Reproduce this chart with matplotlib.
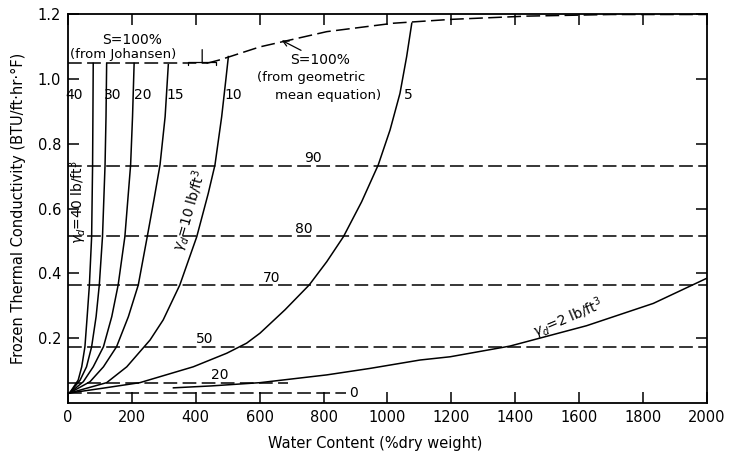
import numpy as np
import matplotlib.pyplot as plt

# frozen conductivity vs water content for each dry density (lb/ft3)
w40 = [5, 32, 43, 53, 60, 67, 74, 77, 78, 79]
k40 = [0.03, 0.07, 0.111, 0.173, 0.266, 0.364, 0.513, 0.735, 0.884, 1.049]
w30 = [5, 38, 58, 74, 88, 98, 108, 116, 119, 121]
k30 = [0.03, 0.07, 0.111, 0.173, 0.266, 0.364, 0.513, 0.735, 0.884, 1.049]
w20 = [5, 48, 79, 111, 137, 157, 178, 196, 202, 207]
k20 = [0.03, 0.065, 0.111, 0.173, 0.266, 0.364, 0.513, 0.735, 0.884, 1.049]
w15 = [5, 69, 111, 152, 189, 220, 248, 269, 288, 304, 314]
k15 = [0.03, 0.065, 0.111, 0.173, 0.266, 0.364, 0.513, 0.627, 0.735, 0.884, 1.045]
w10 = [5, 121, 184, 257, 298, 350, 403, 439, 460, 481, 494, 502]
k10 = [0.03, 0.062, 0.111, 0.194, 0.256, 0.364, 0.513, 0.647, 0.735, 0.884, 0.998, 1.07]
w5 = [5, 110, 225, 392, 497, 559, 601, 679, 755, 810, 862, 919, 971, 1008, 1039, 1060, 1076]
k5 = [0.03, 0.045, 0.062, 0.111, 0.153, 0.184, 0.215, 0.287, 0.364, 0.436, 0.513,
      0.621, 0.735, 0.843, 0.956, 1.07, 1.173]
w2 = [330, 450, 601, 810, 945, 1102, 1196, 1383, 1623, 1832, 2000]
k2 = [0.046, 0.052, 0.062, 0.086, 0.106, 0.132, 0.142, 0.175, 0.238, 0.307, 0.385]

# S = 100% limits
johansen_w = [0, 434]
johansen_k = [1.049, 1.049]
geomean_w = [434, 476, 601, 810, 1018, 1200, 1437, 1700, 2000]
geomean_k = [1.049, 1.06, 1.10, 1.147, 1.173, 1.185, 1.195, 1.2, 1.2]

# constant degree-of-saturation lines (%)
sat_levels = ["90", "80", "70", "50", "20", "0"]
sat_k = [0.733, 0.515, 0.364, 0.171, 0.06, 0.029]
sat_end = [2000, 2000, 2000, 2000, 690, 870]
sat_lab_w = [768, 737, 637, 429, 476, 893]
sat_lab_k = [0.757, 0.536, 0.386, 0.197, 0.087, 0.029]

# density labels at top of curves
dens_labels = ["40", "30", "20", "15", "10", "5"]
dens_lab_w = [20, 141, 235, 335, 516, 1064]
dens_lab_k = [0.951] * 6

fig = plt.figure(figsize=(7.39, 4.53), dpi=100)
ax = fig.add_axes([0.092, 0.111, 0.8647, 0.857])

dash = (0, (9, 3.5))
lw = 1.1

for w, k in [(w40, k40), (w30, k30), (w20, k20), (w15, k15),
             (w10, k10), (w5, k5), (w2, k2)]:
    ax.plot(w, k, color="black", lw=lw)

ax.plot(johansen_w, johansen_k, color="black", lw=lw, linestyle=dash)
ax.plot(geomean_w, geomean_k, color="black", lw=lw, linestyle=dash)

for k, end in zip(sat_k, sat_end):
    ax.plot([0, end], [k, k], color="black", lw=lw, linestyle=dash)

fs = 10
for lab, w, k in zip(sat_levels, sat_lab_w, sat_lab_k):
    ax.text(w, k, lab, fontsize=fs, ha="center", va="center")

for lab, w, k in zip(dens_labels, dens_lab_w, dens_lab_k):
    ax.text(w, k, lab, fontsize=fs, ha="center", va="center")

ax.text(32, 0.62, r"$\gamma_d$=40 lb/ft$^3$", fontsize=fs, rotation=90,
        ha="center", va="center")
ax.text(383, 0.593, r"$\gamma_d$=10 lb/ft$^3$", fontsize=fs, rotation=74,
        ha="center", va="center")
ax.text(1565, 0.262, r"$\gamma_d$=2 lb/ft$^3$", fontsize=fs, rotation=23,
        ha="center", va="center")

ax.text(199, 1.12, "S=100%", fontsize=fs, ha="center", va="center")
ax.text(173, 1.075, "(from Johansen)", fontsize=fs - 0.5, ha="center", va="center")
ax.annotate("", xy=(420, 1.045), xytext=(420, 1.1),
            arrowprops=dict(arrowstyle="-[", lw=0.9, color="black"))
ax.annotate("S=100%", xy=(669, 1.12), xytext=(695, 1.059), fontsize=fs,
            ha="left", va="center",
            arrowprops=dict(arrowstyle="->", lw=0.9, color="black",
                            shrinkA=0, shrinkB=0,
                            connectionstyle="arc3"),
            )
ax.text(760, 1.005, "(from geometric", fontsize=fs - 0.5, ha="center", va="center")
ax.text(815, 0.95, "mean equation)", fontsize=fs - 0.5, ha="center", va="center")

ax.set_xlim(0, 2000)
ax.set_ylim(0, 1.2)
ax.set_xticks(np.arange(0, 2001, 200))
ax.set_yticks([0.2, 0.4, 0.6, 0.8, 1.0, 1.2])
ax.set_yticklabels(["0.2", "0.4", "0.6", "0.8", "1.0", "1.2"])
ax.tick_params(direction="in", length=8, width=1.1, labelsize=10.5,
               top=True, right=True, pad=5)
for sp in ax.spines.values():
    sp.set_linewidth(1.3)

ax.set_xlabel("Water Content (%dry weight)", fontsize=10.5, labelpad=6)
ax.xaxis.set_label_coords(0.48, -0.085)
ax.set_ylabel("Frozen Thermal Conductivity (BTU/ft·hr·°F)", fontsize=10.5,
              labelpad=8)

fig.savefig("out.png", dpi=100)
